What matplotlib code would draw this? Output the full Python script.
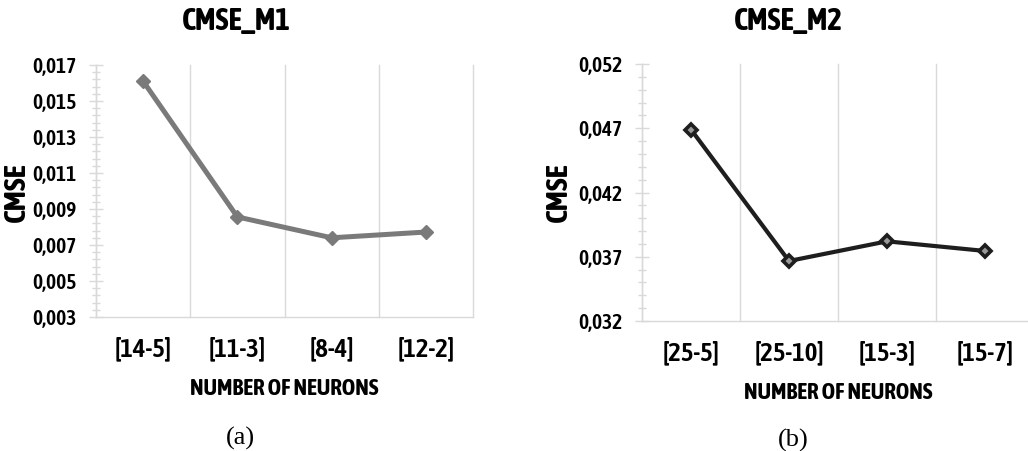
import numpy as np
import matplotlib
matplotlib.use("Agg")
import matplotlib.pyplot as plt
from matplotlib.ticker import FuncFormatter

# ---- data ----
cats_m1 = ["[14-5]", "[11-3]", "[8-4]", "[12-2]"]
cmse_m1 = [0.0161, 0.00856, 0.0074, 0.00772]
cats_m2 = ["[25-5]", "[25-10]", "[15-3]", "[15-7]"]
cmse_m2 = [0.0469, 0.03667, 0.0382, 0.03745]

W, H = 1028, 451
fig = plt.figure(figsize=(W / 100, H / 100), dpi=100)
FONT = ["Asap Condensed", "Lato", "DejaVu Sans"]
WT = "bold"
TWT = 600
GRID = "#d9d9d9"
renderer = fig.canvas.get_renderer()


def fit_size(s, target_px, weight=WT, family=FONT, base=14.0):
    t = fig.text(0, 0, s, fontsize=base, fontfamily=family, fontweight=weight)
    w = t.get_window_extent(renderer).width
    t.remove()
    return base * target_px / w if w > 0 else base


YT = fit_size("0,017", 44, weight=TWT)
XT = fit_size("[14-5]", 57, weight=TWT)
XL = fit_size("NUMBER OF NEURONS", 190)
TT = fit_size("CMSE_M1", 110)
YL = fit_size("CMSE", 60)


def px(x0, y0, x1, y1):
    return [x0 / W, 1 - y1 / H, (x1 - x0) / W, (y1 - y0) / H]


def comma(v, pos):
    return ("%.3f" % v).replace(".", ",")


def style(ax, cats, ylo, yhi, major, minor, color, lw, mfc, mec, mew, ms, vals):
    x = np.arange(len(cats))
    ax.plot(x, vals, color=color, lw=lw, marker="D", ms=ms, mfc=mfc, mec=mec,
            mew=mew, solid_capstyle="round", solid_joinstyle="round", zorder=3)
    ax.set_xlim(-0.5, len(cats) - 0.5)
    ax.set_ylim(ylo, yhi)
    ax.set_xticks(x)
    ax.set_xticklabels(cats, fontfamily=FONT, fontweight=TWT, fontsize=XT)
    ax.set_xticks(np.arange(len(cats) + 1) - 0.5, minor=True)
    ax.grid(axis="x", which="minor", color=GRID, lw=1, clip_on=False)
    ax.set_yticks(np.arange(ylo, yhi + major / 2, major))
    ax.set_yticks(np.arange(ylo, yhi + minor / 2, minor), minor=True)
    ax.yaxis.set_major_formatter(FuncFormatter(comma))
    for lab in ax.get_yticklabels():
        lab.set_fontfamily(FONT)
        lab.set_fontweight(TWT)
        lab.set_fontsize(YT)
    ax.tick_params(axis="x", which="both", length=0, pad=14)
    ax.tick_params(axis="y", which="major", direction="inout", length=10,
                   width=1, color=GRID, pad=9)
    ax.tick_params(axis="y", which="minor", direction="inout", length=6,
                   width=1, color=GRID)
    for s in ("top", "right"):
        ax.spines[s].set_visible(False)
    for s in ("left", "bottom"):
        ax.spines[s].set_color(GRID)
        ax.spines[s].set_linewidth(1)


ax1 = fig.add_axes(px(96, 65, 473, 317))
style(ax1, cats_m1, 0.003, 0.017, 0.002, 0.0004, "#7a7a7a", 3.6,
      "#7a7a7a", "#7a7a7a", 1, 7.5, cmse_m1)

ax2 = fig.add_axes(px(642, 64, 1034, 321))
style(ax2, cats_m2, 0.032, 0.052, 0.005, 0.001, "#1e1e1e", 3.0,
      "#9a9a9a", "#1e1e1e", 2.6, 6.5, cmse_m2)


def ftext(xp, yp, s, **kw):
    fig.text(xp / W, 1 - yp / H, s, ha="center", va="center", **kw)


ftext(236, 21, "CMSE_M1", fontfamily=FONT, fontweight=WT, fontsize=TT)
ftext(788, 21, "CMSE_M2", fontfamily=FONT, fontweight=WT, fontsize=TT)
ftext(16, 192, "CMSE", rotation=90, fontfamily=FONT, fontweight=WT, fontsize=YL)
ftext(558, 192, "CMSE", rotation=90, fontfamily=FONT, fontweight=WT, fontsize=YL)
ftext(284, 389, "NUMBER OF NEURONS", fontfamily=FONT, fontweight=WT, fontsize=XL)
ftext(838, 393, "NUMBER OF NEURONS", fontfamily=FONT, fontweight=WT, fontsize=XL)
ftext(240, 438, "(a)", fontfamily="Liberation Serif", fontsize=19)
ftext(793, 440, "(b)", fontfamily="Liberation Serif", fontsize=19)

fig.savefig("out.png", dpi=100)
